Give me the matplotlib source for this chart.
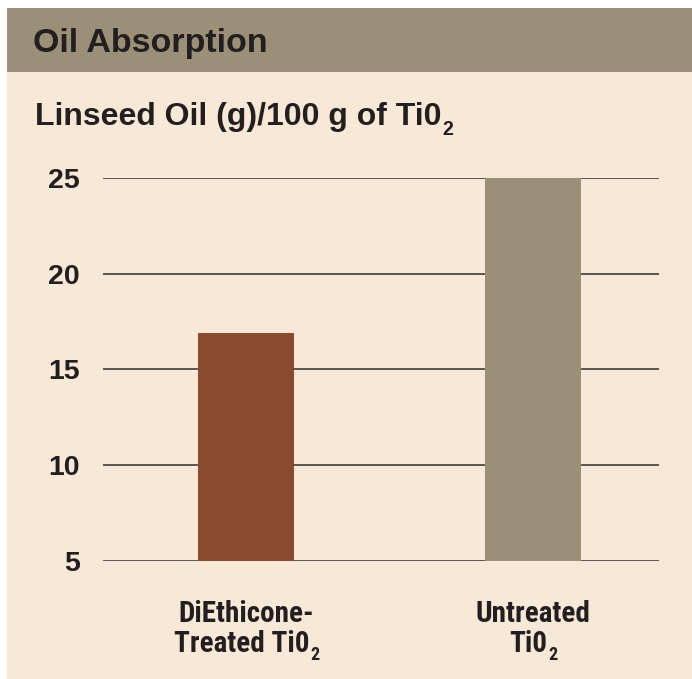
import matplotlib
matplotlib.use("Agg")
import matplotlib.pyplot as plt
from matplotlib.patches import Rectangle

# data
categories = ["DiEthicone-\nTreated Ti0", "Untreated\nTi0"]
values = [16.9, 25.0]
bar_colors = ["#8B4B2E", "#9B8F78"]
yticks = [5, 10, 15, 20, 25]
title = "Oil Absorption"
subtitle = "Linseed Oil (g)/100 g of Ti0"

plt.rcParams["font.family"] = ["Liberation Sans", "DejaVu Sans"]
narrow = ["Roboto Condensed", "Liberation Sans", "DejaVu Sans"]

W, H = 692, 679
fig = plt.figure(figsize=(W / 100, H / 100), dpi=100)
fig.patch.set_facecolor("white")

def fx(px):
    return px / W

def fy(py):
    return 1 - py / H

txt = "#231F20"
# panel + header band
fig.add_artist(Rectangle((fx(7), 0), 1 - fx(7), fy(8), transform=fig.transFigure,
                         facecolor="#F8E8D7", edgecolor="none", zorder=0))
fig.add_artist(Rectangle((fx(7), fy(72)), 1 - fx(7), fy(8) - fy(72), transform=fig.transFigure,
                         facecolor="#9B8F78", edgecolor="none", zorder=0))

fig.text(fx(33), fy(52), title, fontsize=24.5, fontweight="bold", color=txt,
         ha="left", va="baseline")

renderer = fig.canvas.get_renderer()

def with_sub(x, y, s, size, family, ha="left", drop=10):
    # main text plus a lowered subscript "2"
    t = fig.text(x, y, s, fontsize=size, fontweight="bold", color=txt,
                 family=family, ha="left", va="baseline")
    bb = t.get_window_extent(renderer)
    s2 = fig.text(0, 0, "2", fontsize=size * 0.62, fontweight="bold", color=txt,
                  family=family, ha="left", va="baseline")
    b2 = s2.get_window_extent(renderer)
    if ha == "center":
        x0 = x * W - (bb.width + b2.width) / 2
        t.set_x(x0 / W)
    else:
        x0 = x * W
    s2.set_position(((x0 + bb.width + 1) / W, y - drop / H))

with_sub(fx(35), fy(125), subtitle, 23, ["Liberation Sans", "DejaVu Sans"])

ax = fig.add_axes([fx(103), fy(561), fx(659) - fx(103), fy(178) - fy(561)])
ax.set_facecolor("none")
for y in yticks:
    ax.axhline(y, color="#4F4A44", lw=1.3, zorder=1)
xs = list(range(len(categories)))
ax.bar(xs, [v - yticks[0] for v in values], bottom=yticks[0], width=0.334,
       color=bar_colors, zorder=2, clip_on=False)
ax.set_xlim(-0.498, 1.439)
ax.set_ylim(5, 25)
for s in ax.spines.values():
    s.set_visible(False)
ax.set_xticks([])
ax.set_yticks(yticks)
ax.set_yticklabels([str(t) for t in yticks], fontsize=20.5, fontweight="bold", color=txt)
ax.tick_params(axis="y", length=0, pad=16.5)

# category labels, two lines each
for x, lab in zip(xs, categories):
    l1, l2 = lab.split("\n")
    cx = fx(103) + (x + 0.498) / (1.439 + 0.498) * (fx(659) - fx(103))
    fig.text(cx, fy(622), l1, fontsize=21, fontweight="bold", color=txt,
             family=narrow, ha="center", va="baseline")
    with_sub(cx, fy(652), l2, 21, narrow, ha="center", drop=8)

fig.savefig("out.png", dpi=100, facecolor="white")
